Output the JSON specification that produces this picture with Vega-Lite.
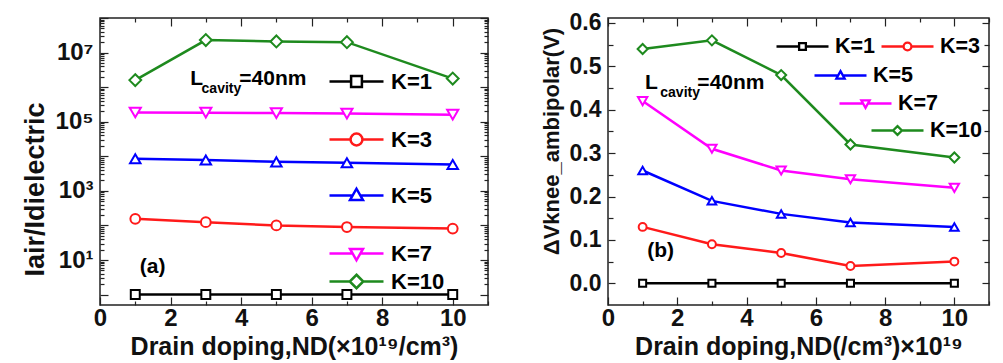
{
  "$schema": "https://vega.github.io/schema/vega-lite/v6.json",
  "padding": {"left": 20, "top": 5, "right": 5, "bottom": 0},
  "spacing": 120,
  "bounds": "flush",
  "datasets": {
    "a": [
      {"K": "K=1", "x": 1, "v": 1}, {"K": "K=1", "x": 3, "v": 1}, {"K": "K=1", "x": 5, "v": 1}, {"K": "K=1", "x": 7, "v": 1}, {"K": "K=1", "x": 10, "v": 1},
      {"K": "K=3", "x": 1, "v": 155}, {"K": "K=3", "x": 3, "v": 124}, {"K": "K=3", "x": 5, "v": 100}, {"K": "K=3", "x": 7, "v": 90}, {"K": "K=3", "x": 10, "v": 81},
      {"K": "K=5", "x": 1, "v": 8500}, {"K": "K=5", "x": 3, "v": 7800}, {"K": "K=5", "x": 5, "v": 6900}, {"K": "K=5", "x": 7, "v": 6500}, {"K": "K=5", "x": 10, "v": 5800},
      {"K": "K=7", "x": 1, "v": 185000}, {"K": "K=7", "x": 3, "v": 183000}, {"K": "K=7", "x": 5, "v": 178000}, {"K": "K=7", "x": 7, "v": 172000}, {"K": "K=7", "x": 10, "v": 160000},
      {"K": "K=10", "x": 1, "v": 1600000}, {"K": "K=10", "x": 3, "v": 23000000}, {"K": "K=10", "x": 5, "v": 21000000}, {"K": "K=10", "x": 7, "v": 20000000}, {"K": "K=10", "x": 10, "v": 1770000}
    ],
    "b": [
      {"K": "K=1", "x": 1, "v": 0}, {"K": "K=1", "x": 3, "v": 0}, {"K": "K=1", "x": 5, "v": 0}, {"K": "K=1", "x": 7, "v": 0}, {"K": "K=1", "x": 10, "v": 0},
      {"K": "K=3", "x": 1, "v": 0.13}, {"K": "K=3", "x": 3, "v": 0.09}, {"K": "K=3", "x": 5, "v": 0.07}, {"K": "K=3", "x": 7, "v": 0.04}, {"K": "K=3", "x": 10, "v": 0.05},
      {"K": "K=5", "x": 1, "v": 0.26}, {"K": "K=5", "x": 3, "v": 0.19}, {"K": "K=5", "x": 5, "v": 0.16}, {"K": "K=5", "x": 7, "v": 0.14}, {"K": "K=5", "x": 10, "v": 0.13},
      {"K": "K=7", "x": 1, "v": 0.42}, {"K": "K=7", "x": 3, "v": 0.31}, {"K": "K=7", "x": 5, "v": 0.26}, {"K": "K=7", "x": 7, "v": 0.24}, {"K": "K=7", "x": 10, "v": 0.22},
      {"K": "K=10", "x": 1, "v": 0.54}, {"K": "K=10", "x": 3, "v": 0.56}, {"K": "K=10", "x": 5, "v": 0.48}, {"K": "K=10", "x": 7, "v": 0.32}, {"K": "K=10", "x": 10, "v": 0.29}
    ],
    "annA": [
      {"x": 2.56, "v": 1180000, "text": "L"},
      {"x": 3.95, "v": 1180000, "text": "=40nm"},
      {"x": 1.13, "v": 4.2, "text": "(a)"}
    ],
    "subA": [
      {"x": 2.88, "v": 690000, "text": "cavity"}
    ],
    "annB": [
      {"x": 1.07, "v": 0.447, "text": "L"},
      {"x": 2.58, "v": 0.447, "text": "=40nm"},
      {"x": 1.13, "v": 0.06, "text": "(b)"}
    ],
    "subB": [
      {"x": 1.51, "v": 0.429, "text": "cavity"}
    ]
  },
  "resolve": {
    "scale": {"color": "independent", "shape": "independent", "size": "independent"},
    "legend": {"color": "independent", "shape": "independent", "size": "independent"}
  },
  "hconcat": [
    {
      "width": 388,
      "height": 287,
      "data": {"name": "a"},
      "resolve": {
        "scale": {"shape": "independent"},
        "legend": {"shape": "independent"},
        "axis": {"x": "independent", "y": "independent"}
      },
      "layer": [
        {
          "mark": {"type": "line", "strokeWidth": 2.5},
          "encoding": {
            "x": {"field": "x", "type": "quantitative", "scale": {"domain": [0, 11], "nice": false},
              "axis": {"orient": "bottom", "values": [0, 1, 2, 3, 4, 5, 6, 7, 8, 9, 10, 11],
                "labelExpr": "datum.value % 2 == 0 && datum.value <= 10 ? datum.label : ''",
                "tickSize": {"condition": {"test": "datum.value % 2 == 0", "value": -8}, "value": -4},
                "labelPadding": 9.5, "title": "Drain doping,ND(×10¹⁹/cm³)", "titleFontSize": 25, "titlePadding": 0}},
            "y": {"field": "v", "type": "quantitative", "scale": {"type": "log", "domain": [0.5, 100000000], "nice": false},
              "axis": {"orient": "left",
                "values": [1, 2, 3, 4, 5, 6, 7, 8, 9, 10, 20, 30, 40, 50, 60, 70, 80, 90, 100, 200, 300, 400, 500, 600, 700, 800, 900, 1000, 2000, 3000, 4000, 5000, 6000, 7000, 8000, 9000, 10000, 20000, 30000, 40000, 50000, 60000, 70000, 80000, 90000, 100000, 200000, 300000, 400000, 500000, 600000, 700000, 800000, 900000, 1000000, 2000000, 3000000, 4000000, 5000000, 6000000, 7000000, 8000000, 9000000, 10000000, 20000000, 30000000, 40000000, 50000000, 60000000, 70000000, 80000000, 90000000, 100000000],
                "labelExpr": "datum.value == 10 ? '10¹' : datum.value == 1000 ? '10³' : datum.value == 100000 ? '10⁵' : datum.value == 10000000 ? '10⁷' : ''",
                "tickSize": {"condition": {"test": "abs(log(datum.value)/LN10 - round(log(datum.value)/LN10)) < 0.001", "value": -8}, "value": -4},
                "labelPadding": 15, "title": "Iair/Idielectric", "titleFontSize": 27, "titlePadding": 6, "titleY": 171}},
            "color": {"field": "K", "type": "nominal", "legend": null,
              "scale": {"domain": ["K=1", "K=3", "K=5", "K=7", "K=10"], "range": ["#000000", "#ff1a1a", "#0000ff", "#ff00ff", "#1e8a1e"]}}
          }
        },
        {
          "mark": {"type": "point", "filled": false, "fill": "white", "strokeWidth": 2, "opacity": 1},
          "encoding": {
            "x": {"field": "x", "type": "quantitative",
              "axis": {"orient": "top", "values": [0, 1, 2, 3, 4, 5, 6, 7, 8, 9, 10, 11], "labels": false, "title": null,
                "tickSize": {"condition": {"test": "datum.value % 2 == 0", "value": -8}, "value": -4}}},
            "y": {"field": "v", "type": "quantitative",
              "axis": {"orient": "right", "labels": false, "title": null,
                "values": [1, 2, 3, 4, 5, 6, 7, 8, 9, 10, 20, 30, 40, 50, 60, 70, 80, 90, 100, 200, 300, 400, 500, 600, 700, 800, 900, 1000, 2000, 3000, 4000, 5000, 6000, 7000, 8000, 9000, 10000, 20000, 30000, 40000, 50000, 60000, 70000, 80000, 90000, 100000, 200000, 300000, 400000, 500000, 600000, 700000, 800000, 900000, 1000000, 2000000, 3000000, 4000000, 5000000, 6000000, 7000000, 8000000, 9000000, 10000000, 20000000, 30000000, 40000000, 50000000, 60000000, 70000000, 80000000, 90000000, 100000000],
                "tickSize": {"condition": {"test": "abs(log(datum.value)/LN10 - round(log(datum.value)/LN10)) < 0.001", "value": -8}, "value": -4}}},
            "color": {"field": "K", "type": "nominal", "legend": null},
            "shape": {"field": "K", "type": "nominal", "legend": null,
              "scale": {"domain": ["K=1", "K=3", "K=5", "K=7", "K=10"], "range": ["square", "circle", "triangle-up", "triangle-down", "diamond"]}},
            "size": {"field": "K", "type": "nominal", "legend": null,
              "scale": {"domain": ["K=1", "K=3", "K=5", "K=7", "K=10"], "range": [80, 140, 160, 160, 170]}}
          }
        },
        {
          "data": {"name": "annA"},
          "mark": {"type": "text", "font": "Liberation Sans", "fontWeight": "bold", "fontSize": 21, "align": "left", "baseline": "alphabetic"},
          "encoding": {
            "x": {"field": "x", "type": "quantitative", "axis": null},
            "y": {"field": "v", "type": "quantitative", "axis": null},
            "text": {"field": "text"}
          }
        },
        {
          "data": {"name": "subA"},
          "mark": {"type": "text", "font": "Liberation Sans", "fontWeight": "bold", "fontSize": 14, "align": "left", "baseline": "alphabetic"},
          "encoding": {
            "x": {"field": "x", "type": "quantitative", "axis": null},
            "y": {"field": "v", "type": "quantitative", "axis": null},
            "text": {"field": "text"}
          }
        },
        {
          "transform": [{"filter": "false"}],
          "mark": {"type": "point", "opacity": 1},
          "encoding": {"shape": {"field": "K", "type": "nominal", "scale": {"domain": ["K=1"], "range": ["M-1,0H-0.2M0.2,0H1M-0.2,-0.2H0.2V0.2H-0.2Z"]},
            "legend": {"orient": "none", "legendX": 228, "legendY": 35, "title": null, "padding": 0, "symbolSize": 2916, "symbolStrokeColor": "#000000", "symbolFillColor": "white", "symbolStrokeWidth": 2.5, "symbolOpacity": 1, "labelFont": "Liberation Sans", "labelFontWeight": "bold", "labelFontSize": 22, "labelColor": "black", "labelOffset": 6}}}
        },
        {
          "transform": [{"filter": "false"}],
          "mark": {"type": "point", "opacity": 1},
          "encoding": {"shape": {"field": "K", "type": "nominal", "scale": {"domain": ["K=3"], "range": ["M-1,0H-0.22M0.22,0H1M0.22,0A0.22,0.22,0,1,1,-0.22,0A0.22,0.22,0,1,1,0.22,0Z"]},
            "legend": {"orient": "none", "legendX": 228, "legendY": 93, "title": null, "padding": 0, "symbolSize": 2916, "symbolStrokeColor": "#ff1a1a", "symbolFillColor": "white", "symbolStrokeWidth": 2.5, "symbolOpacity": 1, "labelFont": "Liberation Sans", "labelFontWeight": "bold", "labelFontSize": 22, "labelColor": "black", "labelOffset": 6}}}
        },
        {
          "transform": [{"filter": "false"}],
          "mark": {"type": "point", "opacity": 1},
          "encoding": {"shape": {"field": "K", "type": "nominal", "scale": {"domain": ["K=5"], "range": ["M-1,0H-0.14M0.14,0H1M0,-0.25L0.24,0.17L-0.24,0.17Z"]},
            "legend": {"orient": "none", "legendX": 228, "legendY": 149, "title": null, "padding": 0, "symbolSize": 2916, "symbolStrokeColor": "#0000ff", "symbolFillColor": "white", "symbolStrokeWidth": 2.5, "symbolOpacity": 1, "labelFont": "Liberation Sans", "labelFontWeight": "bold", "labelFontSize": 22, "labelColor": "black", "labelOffset": 6}}}
        },
        {
          "transform": [{"filter": "false"}],
          "mark": {"type": "point", "opacity": 1},
          "encoding": {"shape": {"field": "K", "type": "nominal", "scale": {"domain": ["K=7"], "range": ["M-1,0H-0.14M0.14,0H1M0,0.25L0.24,-0.17L-0.24,-0.17Z"]},
            "legend": {"orient": "none", "legendX": 228, "legendY": 207, "title": null, "padding": 0, "symbolSize": 2916, "symbolStrokeColor": "#ff00ff", "symbolFillColor": "white", "symbolStrokeWidth": 2.5, "symbolOpacity": 1, "labelFont": "Liberation Sans", "labelFontWeight": "bold", "labelFontSize": 22, "labelColor": "black", "labelOffset": 6}}}
        },
        {
          "transform": [{"filter": "false"}],
          "mark": {"type": "point", "opacity": 1},
          "encoding": {"shape": {"field": "K", "type": "nominal", "scale": {"domain": ["K=10"], "range": ["M-1,0H-0.25M0.25,0H1M0,-0.25L0.25,0L0,0.25L-0.25,0Z"]},
            "legend": {"orient": "none", "legendX": 228, "legendY": 235, "title": null, "padding": 0, "symbolSize": 2916, "symbolStrokeColor": "#1e8a1e", "symbolFillColor": "white", "symbolStrokeWidth": 2.5, "symbolOpacity": 1, "labelFont": "Liberation Sans", "labelFontWeight": "bold", "labelFontSize": 22, "labelColor": "black", "labelOffset": 6}}}
        }
      ]
    },
    {
      "width": 381,
      "height": 287,
      "data": {"name": "b"},
      "resolve": {
        "scale": {"shape": "independent"},
        "legend": {"shape": "independent"},
        "axis": {"x": "independent", "y": "independent"}
      },
      "layer": [
        {
          "mark": {"type": "line", "strokeWidth": 2.5},
          "encoding": {
            "x": {"field": "x", "type": "quantitative", "scale": {"domain": [0, 11], "nice": false},
              "axis": {"orient": "bottom", "values": [0, 1, 2, 3, 4, 5, 6, 7, 8, 9, 10, 11],
                "labelExpr": "datum.value % 2 == 0 && datum.value <= 10 ? datum.label : ''",
                "tickSize": {"condition": {"test": "datum.value % 2 == 0", "value": -8}, "value": -4},
                "labelPadding": 9.5, "title": "Drain doping,ND(/cm³)×10¹⁹", "titleFontSize": 25, "titlePadding": 0}},
            "y": {"field": "v", "type": "quantitative", "scale": {"domain": [-0.05, 0.6115], "nice": false},
              "axis": {"orient": "left", "values": [0, 0.05, 0.1, 0.15, 0.2, 0.25, 0.3, 0.35, 0.4, 0.45, 0.5, 0.55, 0.6],
                "labelExpr": "abs(datum.value*10 - round(datum.value*10)) < 0.01 ? format(datum.value, '.1f') : ''",
                "tickSize": {"condition": {"test": "abs(datum.value*10 - round(datum.value*10)) < 0.01", "value": -7}, "value": -5},
                "labelPadding": 14, "labelFontSize": 23, "title": "ΔVknee_ambipolar(V)", "titleFontSize": 22, "titlePadding": 6, "titleY": 123}},
            "color": {"field": "K", "type": "nominal", "legend": null,
              "scale": {"domain": ["K=1", "K=3", "K=5", "K=7", "K=10"], "range": ["#000000", "#ff1a1a", "#0000ff", "#ff00ff", "#1e8a1e"]}}
          }
        },
        {
          "mark": {"type": "point", "filled": false, "fill": "white", "strokeWidth": 2, "opacity": 1},
          "encoding": {
            "x": {"field": "x", "type": "quantitative",
              "axis": {"orient": "top", "values": [0, 1, 2, 3, 4, 5, 6, 7, 8, 9, 10, 11], "labels": false, "title": null,
                "tickSize": {"condition": {"test": "datum.value % 2 == 0", "value": -8}, "value": -4}}},
            "y": {"field": "v", "type": "quantitative",
              "axis": {"orient": "right", "labels": false, "title": null,
                "values": [0, 0.05, 0.1, 0.15, 0.2, 0.25, 0.3, 0.35, 0.4, 0.45, 0.5, 0.55, 0.6],
                "tickSize": {"condition": {"test": "abs(datum.value*10 - round(datum.value*10)) < 0.01", "value": -7}, "value": -5}}},
            "color": {"field": "K", "type": "nominal", "legend": null},
            "shape": {"field": "K", "type": "nominal", "legend": null,
              "scale": {"domain": ["K=1", "K=3", "K=5", "K=7", "K=10"], "range": ["square", "circle", "triangle-up", "triangle-down", "diamond"]}},
            "size": {"field": "K", "type": "nominal", "legend": null,
              "scale": {"domain": ["K=1", "K=3", "K=5", "K=7", "K=10"], "range": [50, 100, 110, 110, 110]}}
          }
        },
        {
          "data": {"name": "annB"},
          "mark": {"type": "text", "font": "Liberation Sans", "fontWeight": "bold", "fontSize": 21, "align": "left", "baseline": "alphabetic"},
          "encoding": {
            "x": {"field": "x", "type": "quantitative", "axis": null},
            "y": {"field": "v", "type": "quantitative", "axis": null},
            "text": {"field": "text"}
          }
        },
        {
          "data": {"name": "subB"},
          "mark": {"type": "text", "font": "Liberation Sans", "fontWeight": "bold", "fontSize": 14, "align": "left", "baseline": "alphabetic"},
          "encoding": {
            "x": {"field": "x", "type": "quantitative", "axis": null},
            "y": {"field": "v", "type": "quantitative", "axis": null},
            "text": {"field": "text"}
          }
        },
        {
          "transform": [{"filter": "false"}],
          "mark": {"type": "point", "opacity": 1},
          "encoding": {"shape": {"field": "K", "type": "nominal", "scale": {"domain": ["K=1"], "range": ["M-1,0H-0.13M0.13,0H1M-0.13,-0.13H0.13V0.13H-0.13Z"]},
            "legend": {"orient": "none", "legendX": 167, "legendY": 1, "title": null, "padding": 0, "symbolSize": 2704, "symbolStrokeColor": "#000000", "symbolFillColor": "white", "symbolStrokeWidth": 2.3, "symbolOpacity": 1, "labelFont": "Liberation Sans", "labelFontWeight": "bold", "labelFontSize": 21.5, "labelColor": "black", "labelOffset": 5}}}
        },
        {
          "transform": [{"filter": "false"}],
          "mark": {"type": "point", "opacity": 1},
          "encoding": {"shape": {"field": "K", "type": "nominal", "scale": {"domain": ["K=3"], "range": ["M-1,0H-0.15M0.15,0H1M0.15,0A0.15,0.15,0,1,1,-0.15,0A0.15,0.15,0,1,1,0.15,0Z"]},
            "legend": {"orient": "none", "legendX": 272, "legendY": 1, "title": null, "padding": 0, "symbolSize": 2704, "symbolStrokeColor": "#ff1a1a", "symbolFillColor": "white", "symbolStrokeWidth": 2.3, "symbolOpacity": 1, "labelFont": "Liberation Sans", "labelFontWeight": "bold", "labelFontSize": 21.5, "labelColor": "black", "labelOffset": 5}}}
        },
        {
          "transform": [{"filter": "false"}],
          "mark": {"type": "point", "opacity": 1},
          "encoding": {"shape": {"field": "K", "type": "nominal", "scale": {"domain": ["K=5"], "range": ["M-1,0H-0.09M0.09,0H1M0,-0.17L0.16,0.12L-0.16,0.12Z"]},
            "legend": {"orient": "none", "legendX": 205, "legendY": 30, "title": null, "padding": 0, "symbolSize": 2704, "symbolStrokeColor": "#0000ff", "symbolFillColor": "white", "symbolStrokeWidth": 2.3, "symbolOpacity": 1, "labelFont": "Liberation Sans", "labelFontWeight": "bold", "labelFontSize": 21.5, "labelColor": "black", "labelOffset": 5}}}
        },
        {
          "transform": [{"filter": "false"}],
          "mark": {"type": "point", "opacity": 1},
          "encoding": {"shape": {"field": "K", "type": "nominal", "scale": {"domain": ["K=7"], "range": ["M-1,0H-0.09M0.09,0H1M0,0.17L0.16,-0.12L-0.16,-0.12Z"]},
            "legend": {"orient": "none", "legendX": 230, "legendY": 58, "title": null, "padding": 0, "symbolSize": 2704, "symbolStrokeColor": "#ff00ff", "symbolFillColor": "white", "symbolStrokeWidth": 2.3, "symbolOpacity": 1, "labelFont": "Liberation Sans", "labelFontWeight": "bold", "labelFontSize": 21.5, "labelColor": "black", "labelOffset": 5}}}
        },
        {
          "transform": [{"filter": "false"}],
          "mark": {"type": "point", "opacity": 1},
          "encoding": {"shape": {"field": "K", "type": "nominal", "scale": {"domain": ["K=10"], "range": ["M-1,0H-0.17M0.17,0H1M0,-0.17L0.17,0L0,0.17L-0.17,0Z"]},
            "legend": {"orient": "none", "legendX": 262, "legendY": 85, "title": null, "padding": 0, "symbolSize": 2704, "symbolStrokeColor": "#1e8a1e", "symbolFillColor": "white", "symbolStrokeWidth": 2.3, "symbolOpacity": 1, "labelFont": "Liberation Sans", "labelFontWeight": "bold", "labelFontSize": 21.5, "labelColor": "black", "labelOffset": 5}}}
        }
      ]
    }
  ],
  "config": {
    "font": "Liberation Sans",
    "view": {"stroke": "#222222", "strokeWidth": 1.5},
    "axis": {
      "domain": false, "grid": false, "tickColor": "#222222", "tickWidth": 1.2,
      "labelFont": "Liberation Sans", "labelFontWeight": "bold", "labelFontSize": 24, "labelColor": "#111111",
      "titleFont": "Liberation Sans", "titleFontWeight": "bold", "titleFontSize": 24, "titleColor": "#111111",
      "labelOverlap": false, "labelFlush": false
    }
  }
}
